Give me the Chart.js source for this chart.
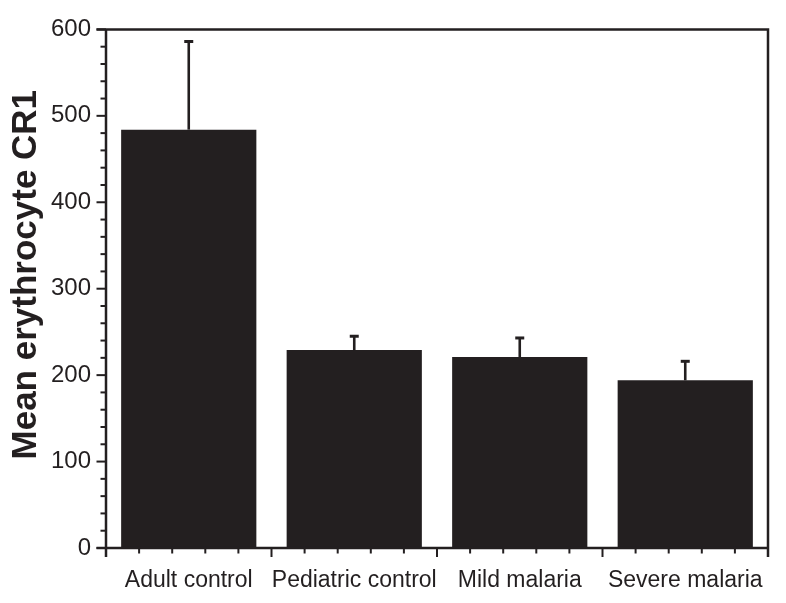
<!DOCTYPE html>
<html>
<head>
<meta charset="utf-8">
<script src="https://cdn.jsdelivr.net/npm/chart.js"></script>
<style>
  body { margin: 0; background: #fff; }
  #wrap { width: 786px; height: 603px; }
</style>
</head>
<body>
<div id="wrap"><canvas id="chart" width="786" height="603"></canvas></div>
<script>
// values
const groups = ['Adult control', 'Pediatric control', 'Mild malaria', 'Severe malaria'];
const meanCR1 = [484, 229, 221, 194];
const errUp = [102, 16, 22, 22];
const yTicks = [0, 100, 200, 300, 400, 500, 600];

const ink = '#231f20';
const font = 'Liberation Sans, Arial, sans-serif';

// axes box, ticks, error bars and y title
const framePlugin = {
    id: 'frame',
    afterDatasetsDraw(chart) {
        const { ctx, chartArea: a, scales: { x, y } } = chart;
        ctx.save();
        ctx.strokeStyle = ink;
        ctx.fillStyle = ink;

        // error bars (upper only)
        const meta = chart.getDatasetMeta(0);
        meta.data.forEach((bar, i) => {
            const yb = y.getPixelForValue(meanCR1[i]);
            const yt = y.getPixelForValue(meanCR1[i] + errUp[i]);
            ctx.lineWidth = 2.6;
            ctx.beginPath();
            ctx.moveTo(bar.x, yb);
            ctx.lineTo(bar.x, yt);
            ctx.stroke();
            ctx.lineWidth = 3;
            ctx.beginPath();
            ctx.moveTo(bar.x - 4.5, yt);
            ctx.lineTo(bar.x + 4.5, yt);
            ctx.stroke();
        });

        // box
        ctx.lineWidth = 2.5;
        ctx.beginPath();
        ctx.moveTo(a.left - 9.5, a.top);
        ctx.lineTo(a.right, a.top);
        ctx.lineTo(a.right, a.bottom + 9);
        ctx.moveTo(a.left, a.top);
        ctx.lineTo(a.left, a.bottom + 9);
        ctx.moveTo(a.left - 9.5, a.bottom);
        ctx.lineTo(a.right, a.bottom);
        ctx.stroke();

        // y ticks: major every 100, minor every 20
        ctx.lineWidth = 2;
        for (let v = 0; v <= 600; v += 20) {
            const py = y.getPixelForValue(v);
            const len = v % 100 === 0 ? 9.5 : 5.5;
            ctx.beginPath();
            ctx.moveTo(a.left - len, py);
            ctx.lineTo(a.left, py);
            ctx.stroke();
        }

        // x ticks: major at group edges, 4 minor between
        const step = (x.right - x.left) / groups.length;
        for (let k = 0; k <= groups.length * 5; k++) {
            const px = x.left + k * step / 5;
            const len = k % 5 === 0 ? 9 : 5.5;
            ctx.beginPath();
            ctx.moveTo(px, a.bottom);
            ctx.lineTo(px, a.bottom + len);
            ctx.stroke();
        }

        // y title
        ctx.translate(26, (a.top + a.bottom) / 2 - 14);
        ctx.rotate(-Math.PI / 2);
        ctx.font = 'bold 35px ' + font;
        ctx.textAlign = 'center';
        ctx.textBaseline = 'middle';
        ctx.fillText('Mean erythrocyte CR1', 0, 0);
        ctx.restore();
    }
};

new Chart(document.getElementById('chart'), {
    type: 'bar',
    data: {
        labels: groups,
        datasets: [{
            data: meanCR1,
            backgroundColor: ink,
            borderWidth: 0,
            barPercentage: 0.817,
            categoryPercentage: 1
        }]
    },
    options: {
        responsive: false,
        devicePixelRatio: 1,
        animation: false,
        layout: { padding: { top: 27, right: 18, left: 0, bottom: 0 } },
        plugins: { legend: { display: false }, tooltip: { enabled: false } },
        scales: {
            x: {
                grid: { display: false, drawTicks: false },
                border: { display: false },
                ticks: { color: ink, font: { family: font, size: 23 }, padding: 19, maxRotation: 0, autoSkip: false },
                afterFit(s) { s.height = 55; }
            },
            y: {
                min: 0,
                max: 600,
                afterBuildTicks(s) { s.ticks = yTicks.map(v => ({ value: v })); },
                grid: { display: false, drawTicks: false },
                border: { display: false },
                ticks: { color: ink, font: { family: font, size: 24 }, padding: 15 },
                afterFit(s) { s.width = 106; }
            }
        }
    },
    plugins: [framePlugin]
});
</script>
</body>
</html>
